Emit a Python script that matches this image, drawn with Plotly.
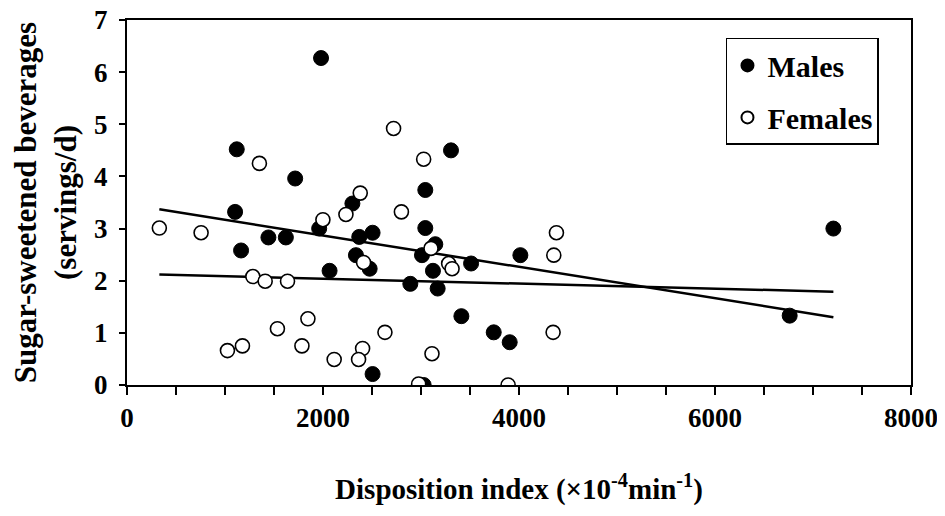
import plotly.graph_objects as go

# Males (filled)
male_x = [1980, 1120, 1716, 2300, 3306, 3044, 1103, 1443, 1621, 1164, 1961, 2370, 2506,
          2336, 2476, 2067, 2506, 3044, 3146, 3010, 4014, 3511, 3122, 2891, 3170, 3412,
          3742, 3905, 3027, 7208, 6762]
male_y = [6.27, 4.52, 3.96, 3.48, 4.50, 3.74, 3.32, 2.83, 2.83, 2.58, 3.00, 2.84, 2.92,
          2.49, 2.23, 2.19, 0.21, 3.01, 2.70, 2.49, 2.49, 2.33, 2.19, 1.94, 1.85, 1.32,
          1.01, 0.82, 0.00, 3.00, 1.33]

# Females (open)
female_x = [2720, 1351, 2380, 3027, 330, 756, 1999, 2234, 2800, 2414, 1284, 1410, 1638,
            1846, 1535, 2632, 1178, 1025, 1785, 2404, 2114, 2363, 4382, 3102, 4355, 3282,
            3317, 4348, 3112, 2976, 3889]
female_y = [4.92, 4.25, 3.68, 4.33, 3.01, 2.92, 3.17, 3.27, 3.32, 2.35, 2.08, 1.99, 1.99,
            1.27, 1.08, 1.01, 0.75, 0.66, 0.75, 0.70, 0.49, 0.49, 2.92, 2.62, 2.49, 2.33,
            2.23, 1.01, 0.60, 0.02, 0.00]

# Regression lines (end points)
fit_x = [330, 7208]
male_fit_y = [3.37, 1.30]
female_fit_y = [2.12, 1.79]

FONT = "Liberation Serif"

fig = go.Figure()
fig.add_trace(go.Scatter(x=fit_x, y=male_fit_y, mode="lines",
                         line=dict(color="black", width=2.5), showlegend=False, hoverinfo="skip"))
fig.add_trace(go.Scatter(x=fit_x, y=female_fit_y, mode="lines",
                         line=dict(color="black", width=2.5), showlegend=False, hoverinfo="skip"))
fig.add_trace(go.Scatter(x=male_x, y=male_y, mode="markers", name="Males", legendgroup="m",
                         marker=dict(symbol="circle", size=15, color="black",
                                     line=dict(color="black", width=1))))
fig.add_trace(go.Scatter(x=female_x, y=female_y, mode="markers", name="Females", legendgroup="f",
                         marker=dict(symbol="circle", size=14, color="white",
                                     line=dict(color="black", width=1.6))))

# page body has an 8px default margin: size the figure so the plot area lands where the reference has it
fig.update_layout(
    width=937, height=508,
    margin=dict(l=119, r=34, t=12, b=131),
    paper_bgcolor="white", plot_bgcolor="white",
    font=dict(family=FONT, size=27, color="black", weight="bold"),
    legend=dict(x=0.764, y=0.951, xanchor="left", yanchor="top",
                bordercolor="black", borderwidth=1.5, bgcolor="white",
                font=dict(family=FONT, size=30, weight="bold"),
                itemsizing="constant", traceorder="grouped", tracegroupgap=10,
                itemwidth=30),
    xaxis=dict(range=[0, 8000], tickvals=[0, 2000, 4000, 6000, 8000],
               ticks="outside", ticklen=8, tickwidth=1.5, tickcolor="black",
               minor=dict(dtick=500, ticks="outside", ticklen=8, tickwidth=1.5, tickcolor="black"),
               showline=True, linecolor="black", linewidth=2, mirror=True,
               showgrid=False, zeroline=False, ticklabelstandoff=0, automargin=False,
               ticklabeloverflow="allow",
               title=dict(text="Disposition index (×10<sup>-4</sup>min<sup>-1</sup>)",
                          standoff=46, font=dict(size=29))),
    yaxis=dict(range=[0, 7], dtick=1,
               ticks="outside", ticklen=6, tickwidth=1.5, tickcolor="black",
               showline=True, linecolor="black", linewidth=2, mirror=True,
               showgrid=False, zeroline=False, ticklabelstandoff=6, automargin=False,
               ticklabeloverflow="allow",
               title=dict(text="Sugar-sweetened beverages<br>(servings/d)",
                          standoff=12, font=dict(size=31))),
)

fig.write_html("out.html")
